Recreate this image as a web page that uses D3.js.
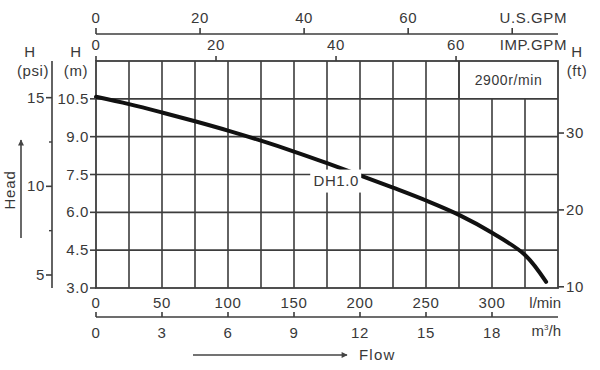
<!DOCTYPE html>
<html>
<head>
<meta charset="utf-8">
<script src="https://cdn.jsdelivr.net/npm/d3@7"></script>
<style>
  body { margin: 0; background: #fff; }
  svg text { font-family: "Liberation Sans", Arial, sans-serif; fill: #383838; letter-spacing: 0.6px; }
</style>
</head>
<body>
<div id="chart"></div>
<script>
// pump curve DH1.0 (flow in l/min, head in m)
const flow = [0, 25, 50, 75, 100, 125, 150, 175, 200, 225, 250, 275, 300, 325, 341];
const head = [10.58, 10.29, 9.96, 9.61, 9.24, 8.84, 8.41, 7.95, 7.47, 6.98, 6.47, 5.9, 5.19, 4.31, 3.24];

// axis ticks
const flowTicks = [0, 50, 100, 150, 200, 250, 300];
const m3hTicks = [0, 3, 6, 9, 12, 15, 18];
const usGpmTicks = [0, 20, 40, 60, 80];
const impGpmTicks = [0, 20, 40, 60];
const headTicks = [3.0, 4.5, 6.0, 7.5, 9.0, 10.5];
const psiTicks = [5, 10, 15];
const psiMinor = [7.5, 12.5];
const ftTicks = [10, 20, 30];

const W = 600, H = 370;
const margin = {top: 61, right: 42, bottom: 82, left: 96};
const width = W - margin.left - margin.right;
const height = H - margin.top - margin.bottom;

const svg = d3.select("#chart").append("svg")
    .attr("width", W)
    .attr("height", H);

const g = svg.append("g")
    .attr("transform", `translate(${margin.left},${margin.top})`);

// scales
const x = d3.scaleLinear().domain([0, 350]).range([0, width]);
const y = d3.scaleLinear().domain([3, 12]).range([height, 0]);
const xM3h = d3.scaleLinear().domain([0, 21]).range([0, width]);
const xImp = d3.scaleLinear().domain([0, 350 / 4.546]).range([0, width]);
const xUs = d3.scaleLinear().domain([0, 88.8]).range([0, width]);
const yPsi = d3.scaleLinear().domain([3 * 1.4223, 12 * 1.4223]).range([height, 0]);
const yFt = d3.scaleLinear().domain([3 * 3.2808, 12 * 3.2808]).range([height, 0]);

const gridColor = "#3d3d3d";

// grid
const vLines = d3.range(25, 350, 25);
g.append("g").selectAll("line")
    .data(vLines)
    .enter().append("line")
    .attr("x1", d => x(d)).attr("x2", d => x(d))
    .attr("y1", d => d > 275 ? y(10.5) : y(12))
    .attr("y2", y(3))
    .attr("stroke", gridColor).attr("stroke-width", 1.6);

g.append("g").selectAll("line")
    .data(headTicks.slice(1))
    .enter().append("line")
    .attr("x1", 0).attr("x2", width)
    .attr("y1", d => y(d)).attr("y2", d => y(d))
    .attr("stroke", gridColor).attr("stroke-width", 1.6);

// speed box
g.append("line")
    .attr("x1", x(275)).attr("x2", x(275))
    .attr("y1", y(12)).attr("y2", y(10.5))
    .attr("stroke", gridColor).attr("stroke-width", 1.6);
g.append("text")
    .attr("x", x(312.5)).attr("y", y(11.25) + 5)
    .attr("text-anchor", "middle")
    .style("font-size", "14px")
    .text("2900r/min");

// border
g.append("rect")
    .attr("width", width).attr("height", height)
    .attr("fill", "none")
    .attr("stroke", gridColor).attr("stroke-width", 1.8);

// curve
const line = d3.line()
    .x(d => x(d[0]))
    .y(d => y(d[1]))
    .curve(d3.curveCatmullRom.alpha(0.5));

g.append("path")
    .datum(flow.map((f, i) => [f, head[i]]))
    .attr("d", line)
    .attr("fill", "none")
    .attr("stroke", "#111")
    .attr("stroke-width", 4)
    .attr("stroke-linecap", "round");

// curve label with white background
const lbl = g.append("g").attr("transform", `translate(${x(182)},${y(7.26)})`);
lbl.append("rect")
    .attr("x", -26).attr("y", -11).attr("width", 51).attr("height", 23)
    .attr("fill", "#fff");
lbl.append("text")
    .attr("text-anchor", "middle").attr("y", 5)
    .style("font-size", "15px")
    .text("DH1.0");

const tickFont = "15px";

// left axis (m)
g.append("g").selectAll("line")
    .data(headTicks)
    .enter().append("line")
    .attr("x1", -6).attr("x2", 0)
    .attr("y1", d => y(d)).attr("y2", d => y(d))
    .attr("stroke", gridColor).attr("stroke-width", 1.6);
g.append("g").selectAll("text")
    .data(headTicks)
    .enter().append("text")
    .attr("x", -7).attr("y", d => y(d) + 5)
    .attr("text-anchor", "end")
    .style("font-size", tickFont)
    .text(d => d.toFixed(1));

// psi axis
const psiX = -44;
g.append("line")
    .attr("x1", psiX).attr("x2", psiX)
    .attr("y1", 0).attr("y2", height)
    .attr("stroke", gridColor).attr("stroke-width", 1.6);
g.append("g").selectAll("line")
    .data(psiTicks)
    .enter().append("line")
    .attr("x1", psiX - 6).attr("x2", psiX)
    .attr("y1", d => yPsi(d)).attr("y2", d => yPsi(d))
    .attr("stroke", gridColor).attr("stroke-width", 1.6);
g.append("g").selectAll("line")
    .data(psiMinor)
    .enter().append("line")
    .attr("x1", psiX - 3).attr("x2", psiX)
    .attr("y1", d => yPsi(d)).attr("y2", d => yPsi(d))
    .attr("stroke", gridColor).attr("stroke-width", 1.4);
g.append("g").selectAll("text")
    .data(psiTicks)
    .enter().append("text")
    .attr("x", psiX - 7).attr("y", d => yPsi(d) + 5)
    .attr("text-anchor", "end")
    .style("font-size", tickFont)
    .text(d => d);

// right axis (ft)
g.append("g").selectAll("line")
    .data(ftTicks)
    .enter().append("line")
    .attr("x1", width).attr("x2", width + 6)
    .attr("y1", d => yFt(d)).attr("y2", d => yFt(d))
    .attr("stroke", gridColor).attr("stroke-width", 1.6);
g.append("g").selectAll("text")
    .data(ftTicks)
    .enter().append("text")
    .attr("x", width + 8).attr("y", d => yFt(d) + 5)
    .style("font-size", tickFont)
    .text(d => d);

// axis titles
const titles = [
    {x: 30 - margin.left, y: -4, t: "H"},
    {x: 33 - margin.left, y: 15, t: "(psi)"},
    {x: 76 - margin.left, y: -4, t: "H"},
    {x: 76 - margin.left, y: 15, t: "(m)"},
    {x: width + 19, y: -4, t: "H"},
    {x: width + 19, y: 15, t: "(ft)"}
];
g.append("g").selectAll("text")
    .data(titles)
    .enter().append("text")
    .attr("x", d => d.x).attr("y", d => d.y)
    .attr("text-anchor", "middle")
    .style("font-size", tickFont)
    .text(d => d.t);

// bottom l/min labels
g.append("g").selectAll("text")
    .data(flowTicks)
    .enter().append("text")
    .attr("x", d => x(d)).attr("y", height + 20)
    .attr("text-anchor", "middle")
    .style("font-size", tickFont)
    .text(d => d);
g.append("text")
    .attr("x", width + 3).attr("y", height + 20)
    .attr("text-anchor", "end")
    .style("font-size", tickFont)
    .style("letter-spacing", "0px")
    .text("l/min");

// m3/h axis
const m3Y = height + 29;
g.append("line")
    .attr("x1", 0).attr("x2", width)
    .attr("y1", m3Y).attr("y2", m3Y)
    .attr("stroke", gridColor).attr("stroke-width", 1.6);
g.append("g").selectAll("line")
    .data(m3hTicks)
    .enter().append("line")
    .attr("x1", d => xM3h(d)).attr("x2", d => xM3h(d))
    .attr("y1", m3Y - 5).attr("y2", m3Y)
    .attr("stroke", gridColor).attr("stroke-width", 1.6);
g.append("g").selectAll("text")
    .data(m3hTicks)
    .enter().append("text")
    .attr("x", d => xM3h(d)).attr("y", m3Y + 21)
    .attr("text-anchor", "middle")
    .style("font-size", tickFont)
    .text(d => d);
const m3lbl = g.append("text")
    .attr("x", width + 3).attr("y", m3Y + 19)
    .attr("text-anchor", "end")
    .style("font-size", tickFont)
    .style("letter-spacing", "0px");
m3lbl.append("tspan").text("m");
m3lbl.append("tspan").attr("dy", -6).style("font-size", "8px").text("3");
m3lbl.append("tspan").attr("dy", 6).text("/h");

// IMP.GPM axis (on plot top border)
g.append("g").selectAll("line")
    .data(impGpmTicks)
    .enter().append("line")
    .attr("x1", d => xImp(d)).attr("x2", d => xImp(d))
    .attr("y1", -5).attr("y2", 0)
    .attr("stroke", gridColor).attr("stroke-width", 1.6);
g.append("g").selectAll("text")
    .data(impGpmTicks)
    .enter().append("text")
    .attr("x", d => xImp(d)).attr("y", -11)
    .attr("text-anchor", "middle")
    .style("font-size", tickFont)
    .text(d => d);
g.append("text")
    .attr("x", width + 9).attr("y", -11)
    .attr("text-anchor", "end")
    .style("font-size", tickFont)
    .text("IMP.GPM");

// U.S.GPM axis
const usY = -27;
g.append("line")
    .attr("x1", 0).attr("x2", width)
    .attr("y1", usY).attr("y2", usY)
    .attr("stroke", gridColor).attr("stroke-width", 1.6);
g.append("g").selectAll("line")
    .data(usGpmTicks)
    .enter().append("line")
    .attr("x1", d => xUs(d)).attr("x2", d => xUs(d))
    .attr("y1", usY - 6).attr("y2", usY)
    .attr("stroke", gridColor).attr("stroke-width", 1.6);
g.append("g").selectAll("text")
    .data(usGpmTicks.filter(d => d < 80))
    .enter().append("text")
    .attr("x", d => xUs(d)).attr("y", usY - 11)
    .attr("text-anchor", "middle")
    .style("font-size", tickFont)
    .text(d => d);
g.append("text")
    .attr("x", width + 9).attr("y", usY - 11)
    .attr("text-anchor", "end")
    .style("font-size", tickFont)
    .text("U.S.GPM");

// arrows
const defs = svg.append("defs");
defs.append("marker")
    .attr("id", "arr")
    .attr("viewBox", "0 0 10 10")
    .attr("refX", 9).attr("refY", 5)
    .attr("markerWidth", 14).attr("markerHeight", 6)
    .attr("markerUnits", "userSpaceOnUse")
    .attr("orient", "auto")
    .append("path").attr("d", "M0,0L10,5L0,10z").attr("fill", "#444");

svg.append("line")
    .attr("x1", 193).attr("x2", 347)
    .attr("y1", 355).attr("y2", 355)
    .attr("stroke", "#444").attr("stroke-width", 1.6)
    .attr("marker-end", "url(#arr)");
svg.append("text")
    .attr("x", 359).attr("y", 360)
    .style("font-size", tickFont)
    .style("letter-spacing", "1.2px")
    .text("Flow");

svg.append("line")
    .attr("x1", 21).attr("x2", 21)
    .attr("y1", 238).attr("y2", 140)
    .attr("stroke", "#444").attr("stroke-width", 1.6)
    .attr("marker-end", "url(#arr)");
svg.append("text")
    .attr("transform", "translate(15,190) rotate(-90)")
    .attr("text-anchor", "middle")
    .style("font-size", tickFont)
    .style("letter-spacing", "0.8px")
    .text("Head");
</script>
</body>
</html>
